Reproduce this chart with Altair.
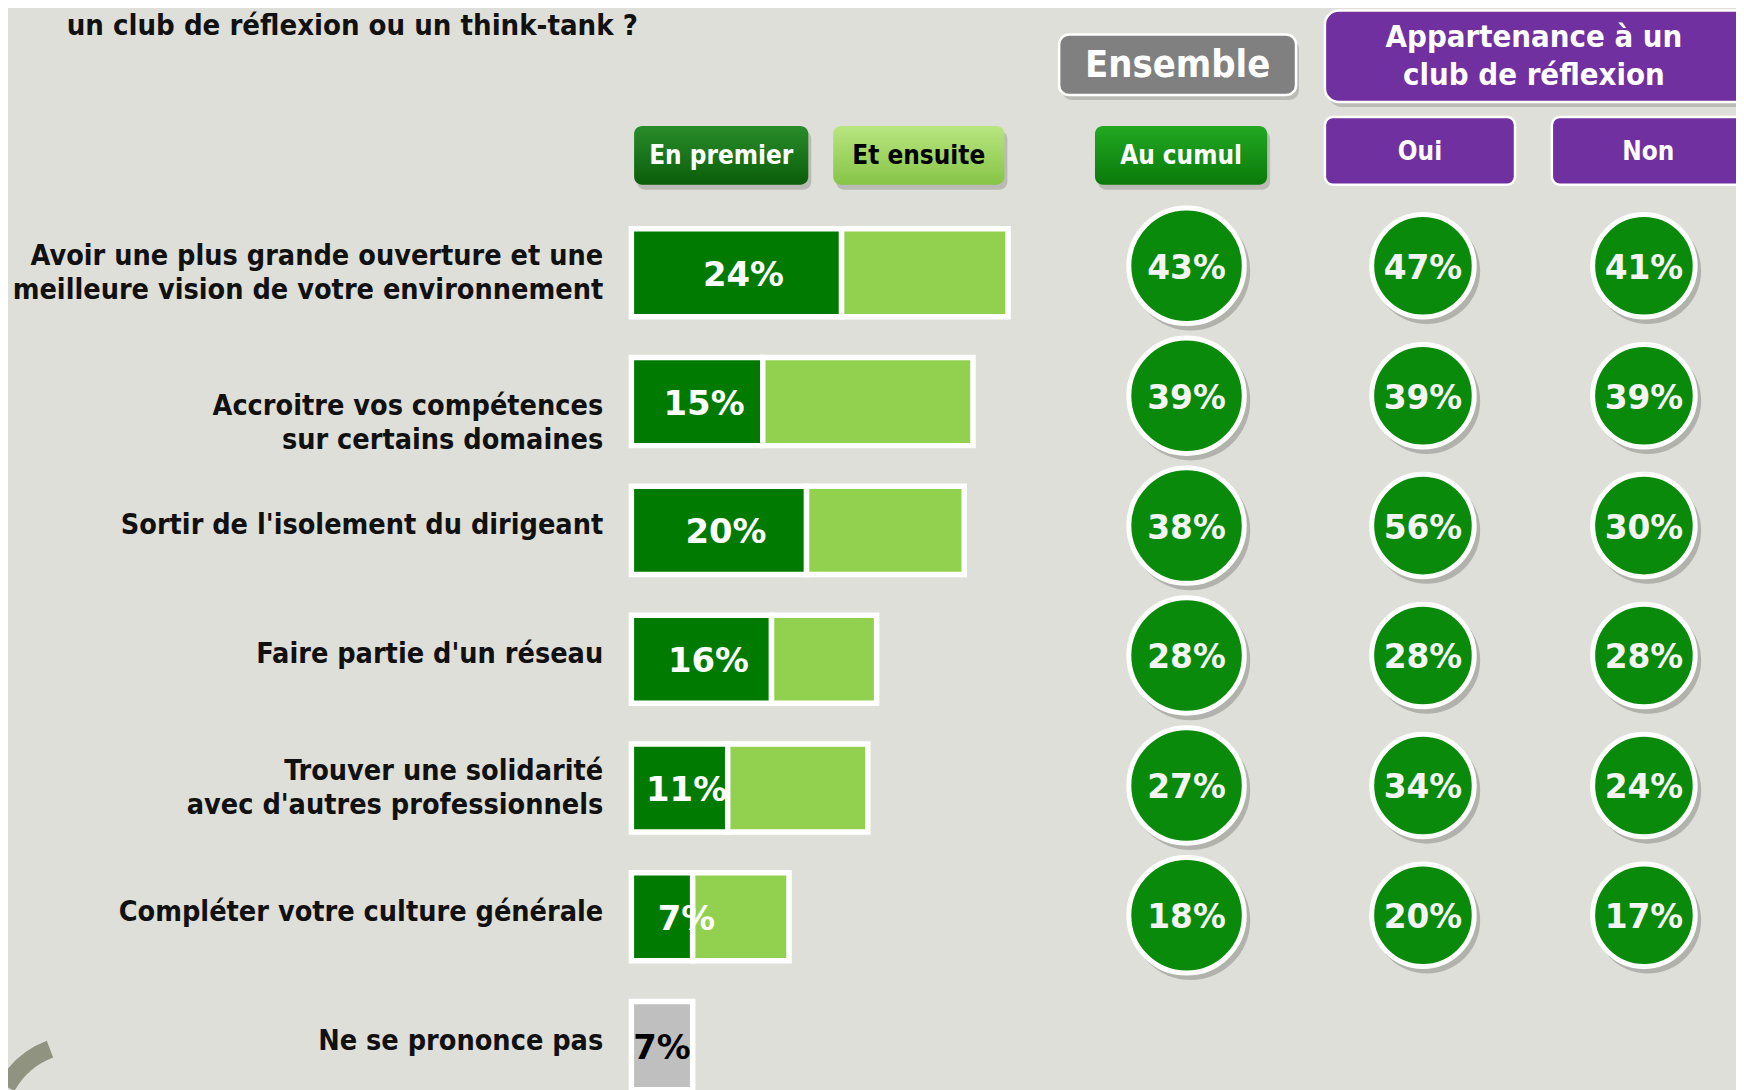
import altair as alt
import pandas as pd

# ---------------- data ----------------
rows = [
    "Avoir une plus grande ouverture et une\nmeilleure vision de votre environnement",
    "Accroitre vos compétences\nsur certains domaines",
    "Sortir de l'isolement du dirigeant",
    "Faire partie d'un réseau",
    "Trouver une solidarité\navec d'autres professionnels",
    "Compléter votre culture générale",
    "Ne se prononce pas",
]
en_premier = [24, 15, 20, 16, 11, 7, 7]
au_cumul = [43, 39, 38, 28, 27, 18, 7]
kinds = ["main", "main", "main", "main", "main", "main", "nsp"]

circle_groups = ["Au cumul", "Oui", "Non"]
club_oui = [47, 39, 56, 28, 34, 20]
club_non = [41, 39, 30, 28, 24, 17]

title_text = "un club de réflexion ou un think-tank ?"

# ---------------- tables ----------------
bars = pd.DataFrame({"row": rows, "premier": en_premier, "cumul": au_cumul, "kind": kinds})
bars["label"] = bars["premier"].astype(str) + "%"

circ_records = []
for i in range(6):
    circ_records.append({"row": rows[i], "group": "Au cumul", "value": au_cumul[i]})
    circ_records.append({"row": rows[i], "group": "Oui", "value": club_oui[i]})
    circ_records.append({"row": rows[i], "group": "Non", "value": club_non[i]})
circles = pd.DataFrame(circ_records)
circles["label"] = circles["value"].astype(str) + "%"

# ---------------- styling ----------------
FONT = "DejaVu Sans Condensed, DejaVu Sans"
NUMFONT = "DejaVu Sans"
BG = "#DFDFD9"
DARK = "#007A00"
LIGHT = "#92D050"
CIRC = "#0A8A0A"
GRAY = "#BFBFBF"
PURPLE = "#7030A0"

yscale = alt.Scale(domain=rows, range=[198.8, 1104.6], paddingInner=0.316, paddingOuter=0.158)
ycirc = alt.Scale(type="point", domain=rows[:6], range=[256.5, 909.0], padding=0)
xbar = alt.Scale(domain=[0, 100], range=[626.25, 1506.25])
xcirc = alt.Scale(type="point", domain=circle_groups, range=[1199.5, 1643.5], padding=0)
Y = alt.Y("row:N", scale=yscale, axis=None)
YC = alt.Y("row:N", scale=ycirc, axis=None)

base = alt.Chart(bars)

label_props = dict(align="right", baseline="middle", font=FONT, fontWeight="bold", fontSize=28.7,
                   lineBreak="\n", lineHeight=34.5, color="#111111")
two_line = "indexof(datum.row, '\\n') >= 0"
second = f"datum.row == {repr(rows[1])}"
# two-line labels centred on their bar
row_labels_c = base.transform_filter(f"{two_line} && !({second})").mark_text(
    dy=-17, **label_props).encode(x=alt.value(598), y=Y, text="row:N")
# two-line label whose first line sits on the bar's middle
row_labels_t = base.transform_filter(second).mark_text(
    dy=4, **label_props).encode(x=alt.value(598), y=Y, text="row:N")
# one-line labels
row_labels_s = base.transform_filter(f"!({two_line})").mark_text(
    dy=-5, **label_props).encode(x=alt.value(598), y=Y, text="row:N")

dark_bars = base.transform_filter("datum.kind == 'main'").mark_bar(
    color=DARK, stroke="white", strokeWidth=5.5
).encode(x=alt.X("premier:Q", scale=xbar, axis=None), y=Y)

light_bars = base.transform_filter("datum.kind == 'main'").mark_bar(
    color=LIGHT, stroke="white", strokeWidth=5.5
).encode(x=alt.X("premier:Q", scale=xbar, axis=None), x2="cumul:Q", y=Y)

nsp_bar = base.transform_filter("datum.kind == 'nsp'").mark_bar(
    color=GRAY, stroke="white", strokeWidth=5.5
).encode(x=alt.X("premier:Q", scale=xbar, axis=None), y=Y)

bar_labels = base.transform_filter("datum.kind == 'main'").transform_calculate(
    pos="max(datum.premier / 2 + 0.8, 6.3)"
).mark_text(
    font=NUMFONT, fontWeight="bold", fontSize=34, color="white", baseline="middle", dy=3
).encode(x=alt.X("pos:Q", scale=xbar, axis=None), y=Y, text="label:N")

nsp_label = base.transform_filter("datum.kind == 'nsp'").transform_calculate(
    pos="datum.premier / 2"
).mark_text(
    font=NUMFONT, fontWeight="bold", fontSize=34, color="black", baseline="middle", dy=3
).encode(x=alt.X("pos:Q", scale=xbar, axis=None), y=Y, text="label:N")

cbase = alt.Chart(circles)
CX = alt.X("group:N", scale=xcirc, axis=None)


def circle_layers(filt, d_fill, xoff):
    # Vega symbol size is the area of the bounding square: diameter**2
    c = cbase.transform_filter(filt)
    return [
        c.mark_circle(color="#000000", opacity=0.2, size=(d_fill + 4) ** 2,
                      xOffset=xoff + 4, yOffset=5).encode(x=CX, y=YC),
        c.mark_circle(color=CIRC, opacity=1, stroke="white", strokeWidth=5, size=d_fill ** 2,
                      xOffset=xoff).encode(x=CX, y=YC),
        c.mark_text(font=NUMFONT, fontWeight="bold", fontSize=33, color="#F4F4F4",
                    baseline="middle", dy=3, xOffset=xoff).encode(x=CX, y=YC, text="label:N"),
    ]


circ = circle_layers("datum.group == 'Au cumul'", 116, -15.5) + circle_layers("datum.group != 'Au cumul'", 103, 0)


def grad(top, bottom):
    return alt.LinearGradient(
        gradient="linear", x1=0, x2=0, y1=0, y2=1,
        stops=[alt.GradientStop(color=top, offset=0), alt.GradientStop(color=bottom, offset=1)],
    )


def button(text, x1, x2, y1, y2, fill, color, size, tx=None, radius=8, stroke=None, shadow=True, lh=None):
    b = alt.Chart(pd.DataFrame({"t": [text]}))
    layers = []
    if shadow:
        layers.append(b.mark_rect(cornerRadius=radius, color="#000000", opacity=0.16).encode(
            x=alt.value(x1 + 3), x2=alt.value(x2 + 3), y=alt.value(y1 + 5), y2=alt.value(y2 + 5)))
    props = dict(cornerRadius=radius, fill=fill)
    if stroke:
        props.update(stroke=stroke, strokeWidth=2.5)
    layers.append(b.mark_rect(**props).encode(
        x=alt.value(x1), x2=alt.value(x2), y=alt.value(y1), y2=alt.value(y2)))
    nlines = text.count("\n") + 1
    lh = lh or size * 1.15
    ty = (y1 + y2) / 2 + 1 - (nlines - 1) * lh / 2
    layers.append(b.mark_text(
        font=FONT, fontWeight="bold", fontSize=size, color=color, baseline="middle",
        lineBreak="\n", lineHeight=lh,
    ).encode(x=alt.value(tx if tx is not None else (x1 + x2) / 2), y=alt.value(ty), text="t:N"))
    return layers


header_layers = []
header_layers += button("En premier", 629, 804, 116, 175, grad("#2A8C2A", "#0A5E0A"), "white", 26)
header_layers += button("Et ensuite", 829, 1001, 116, 175, grad("#B8E680", "#86C446"), "black", 26)
header_layers += button("Au cumul", 1092, 1265, 116, 175, grad("#22A822", "#0A7A0A"), "white", 26)
header_layers += button("Ensemble", 1056, 1294, 24, 85, "#808080", "white", 38, stroke="white", radius=10)
header_layers += button("Appartenance à un\nclub de réflexion", 1323, 1770, 0, 92, PURPLE, "white", 31,
                        tx=1533, stroke="white", radius=14, lh=38)
header_layers += button("Oui", 1323, 1514, 107, 175, PURPLE, "white", 26, stroke="white", shadow=False)
header_layers += button("Non", 1551, 1770, 107, 175, PURPLE, "white", 26, tx=1648, stroke="white", shadow=False)

title = alt.Chart(pd.DataFrame({"t": [title_text]})).mark_text(
    font=FONT, fontWeight="bold", fontSize=29.2, align="left", baseline="alphabetic", color="#111111"
).encode(x=alt.value(59), y=alt.value(25), text="t:N")

# decorative logo fragment (bottom-left corner)
logo = alt.Chart(pd.DataFrame({"t": [0]})).mark_arc(
    color="#8F937F", innerRadius=75, outerRadius=93, theta=5.22, theta2=5.92
).encode(x=alt.value(72), y=alt.value(1122))

chart = alt.layer(
    logo, title, *header_layers, row_labels_c, row_labels_t, row_labels_s,
    dark_bars, light_bars, nsp_bar, bar_labels, nsp_label,
    *circ,
).resolve_scale(x="independent", y="independent", color="independent").properties(
    width=1736, height=1082, padding=0, autosize=alt.AutoSizeParams(type="none"),
).configure(background=BG).configure_view(stroke=None)

chart.save("out.html", embed_options={"renderer": "svg", "actions": False})
